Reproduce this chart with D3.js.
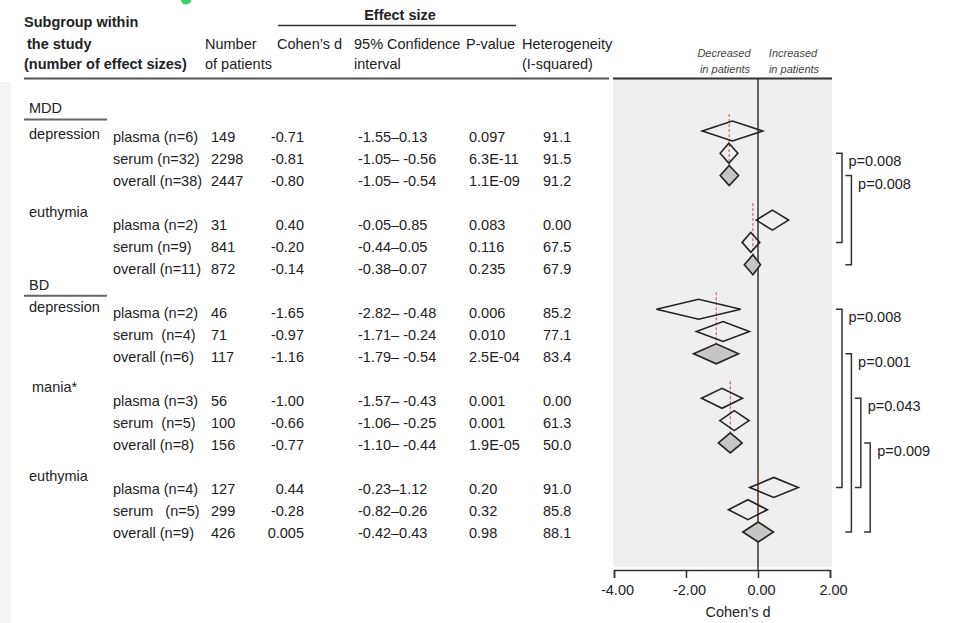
<!DOCTYPE html>
<html lang="en">
<head>
  <meta charset="UTF-8">
  <title>Forest plot</title>
  <script src="https://d3js.org/d3.v7.min.js"></script>
  <style>
    body { margin: 0; background: #fff; }
    svg { display: block; font-family: "Liberation Sans", Arial, sans-serif; }
    text { fill: #222; font-size: 14.5px; white-space: pre; }
    .bold { font-weight: bold; }
    .small { font-size: 11px; font-style: italic; fill: #444; }
  </style>
</head>
<body>
<svg id="chart" width="971" height="623"></svg>

<script>
  // table data (one entry per row)
  const subgroups = ["plasma (n=6)", "serum (n=32)", "overall (n=38)",
                     "plasma (n=2)", "serum (n=9)", "overall (n=11)",
                     "plasma (n=2)", "serum  (n=4)", "overall (n=6)",
                     "plasma (n=3)", "serum  (n=5)", "overall (n=8)",
                     "plasma (n=4)", "serum   (n=5)", "overall (n=9)"];
  const patients = [149, 2298, 2447, 31, 841, 872, 46, 71, 117, 56, 100, 156, 127, 299, 426];
  const cohensD = [-0.71, -0.81, -0.80, 0.40, -0.20, -0.14, -1.65, -0.97, -1.16, -1.00, -0.66, -0.77, 0.44, -0.28, 0.005];
  const ciLow = [-1.55, -1.05, -1.05, -0.05, -0.44, -0.38, -2.82, -1.71, -1.79, -1.57, -1.06, -1.10, -0.23, -0.82, -0.42];
  const ciHigh = [0.13, -0.56, -0.54, 0.85, 0.05, 0.07, -0.48, -0.24, -0.54, -0.43, -0.25, -0.44, 1.12, 0.26, 0.43];
  const pValues = ["0.097", "6.3E-11", "1.1E-09", "0.083", "0.116", "0.235", "0.006", "0.010", "2.5E-04",
                   "0.001", "0.001", "1.9E-05", "0.20", "0.32", "0.98"];
  const iSquared = ["91.1", "91.5", "91.2", "0.00", "67.5", "67.9", "85.2", "77.1", "83.4",
                    "0.00", "61.3", "50.0", "91.0", "85.8", "88.1"];

  // groups of three rows
  const disorders = ["MDD", "BD"];
  const groupLabels = ["depression", "euthymia", "depression", "mania*", "euthymia"];
  const groupDisorder = ["MDD", "MDD", "BD", "BD", "BD"];

  // comparisons between groups (row indices)
  const bracketFrom = [1, 2, 6, 8, 9, 11];
  const bracketTo = [4, 5, 12, 14, 12, 14];
  const bracketLevel = [0, 1, 0, 1, 2, 3];
  const bracketP = ["p=0.008", "p=0.008", "p=0.008", "p=0.001", "p=0.043", "p=0.009"];

  const axisTicks = [-4, -2, 0, 2];

  const svg = d3.select("#chart");

  // a blank slot separates each group of three rows
  const slot = i => i + Math.floor(i / 3);
  const yText = d3.scaleLinear().domain([0, 18]).range([141.7, 538.3]);
  const yDiam = d3.scaleLinear().domain([0, 18]).range([131, 532]);
  const x = d3.scaleLinear().domain([-4, 2]).range([614, 830]);

  const fmtD = v => Math.abs(v) < 0.01 ? String(v) : v.toFixed(2);
  const fmtCI = (lo, hi) => lo.toFixed(2) + "\u2013" + (hi < 0 ? " " : "") + hi.toFixed(2);

  // faint strip at the left edge
  svg.append("rect").attr("x", 0).attr("y", 82).attr("width", 11).attr("height", 541).attr("fill", "#f5f5f5");
  svg.append("circle").attr("cx", 186).attr("cy", -1).attr("r", 5.5).attr("fill", "#3bd16f");

  // ---- header ----
  const header = svg.append("g");
  header.append("text").attr("class", "bold").attr("x", 24).attr("y", 26.5).text("Subgroup within");
  header.append("text").attr("class", "bold").attr("x", 27).attr("y", 49).text("the study");
  header.append("text").attr("class", "bold").attr("x", 24).attr("y", 69).text("(number of effect sizes)");
  header.append("text").attr("x", 205).attr("y", 49).text("Number");
  header.append("text").attr("x", 205).attr("y", 69).text("of patients");
  header.append("text").attr("x", 277).attr("y", 49).text("Cohen\u2019s d");
  header.append("text").attr("x", 354).attr("y", 49).text("95% Confidence");
  header.append("text").attr("x", 354).attr("y", 69).text("interval");
  header.append("text").attr("x", 466).attr("y", 49).text("P-value");
  header.append("text").attr("x", 522).attr("y", 49).text("Heterogeneity");
  header.append("text").attr("x", 522).attr("y", 69).text("(I-squared)");
  header.append("text").attr("class", "bold").attr("x", 400).attr("y", 20)
    .attr("text-anchor", "middle").text("Effect size");
  header.append("line").attr("x1", 278).attr("x2", 516).attr("y1", 25.5).attr("y2", 25.5)
    .attr("stroke", "#333").attr("stroke-width", 1.6);
  header.append("line").attr("x1", 24).attr("x2", 609).attr("y1", 78.5).attr("y2", 78.5)
    .attr("stroke", "#555").attr("stroke-width", 2);

  // ---- table body ----
  const disorderLift = 28.4;
  disorders.forEach(d => {
    const first = groupDisorder.indexOf(d) * 3;
    const yb = yText(slot(first)) - disorderLift;
    svg.append("text").attr("x", 29).attr("y", yb).text(d);
    svg.append("line").attr("x1", 24).attr("x2", 107)
      .attr("y1", yb + 6.2).attr("y2", yb + 6.2)
      .attr("stroke", "#666").attr("stroke-width", 2);
  });

  const groupLift = [2.7, 13, 6, 13.7, 13];
  groupLabels.forEach((g, k) => {
    svg.append("text").attr("x", k === 3 ? 32 : 29)
      .attr("y", yText(slot(k * 3)) - groupLift[k]).text(g);
  });

  const rows = svg.append("g").selectAll("g")
    .data(subgroups.map((s, i) => i))
    .join("g")
    .attr("transform", i => `translate(0,${yText(slot(i))})`);

  rows.append("text").attr("x", 113).text(i => subgroups[i]);
  rows.append("text").attr("x", 211).text(i => patients[i]);
  rows.append("text").attr("x", 304).attr("text-anchor", "end").text(i => fmtD(cohensD[i]));
  rows.append("text").attr("x", 358).text(i => fmtCI(ciLow[i], ciHigh[i]));
  rows.append("text").attr("x", 469).text(i => pValues[i]);
  rows.append("text").attr("x", 543).text(i => iSquared[i]);

  // ---- forest plot ----
  const plot = svg.append("g");
  plot.append("rect").attr("x", 613).attr("y", 78).attr("width", 219).attr("height", 489).attr("fill", "#efefef");
  plot.append("line").attr("x1", 613).attr("x2", 832).attr("y1", 78.5).attr("y2", 78.5)
    .attr("stroke", "#333").attr("stroke-width", 2);
  plot.append("line").attr("x1", x(0)).attr("x2", x(0)).attr("y1", 78).attr("y2", 570)
    .attr("stroke", "#333").attr("stroke-width", 1.5);

  plot.append("text").attr("class", "small").attr("x", 724).attr("y", 57).attr("text-anchor", "middle").text("Decreased");
  plot.append("text").attr("class", "small").attr("x", 725).attr("y", 73).attr("text-anchor", "middle").text("in patients");
  plot.append("text").attr("class", "small").attr("x", 793).attr("y", 57).attr("text-anchor", "middle").text("Increased");
  plot.append("text").attr("class", "small").attr("x", 794).attr("y", 73).attr("text-anchor", "middle").text("in patients");

  // dashed reference at each group's overall estimate
  groupLabels.forEach((g, k) => {
    const o = k * 3 + 2;
    plot.append("line")
      .attr("x1", x(cohensD[o])).attr("x2", x(cohensD[o]))
      .attr("y1", yDiam(slot(k * 3)) - 17).attr("y2", yDiam(slot(o)) - 10)
      .attr("stroke", "#b4533c").attr("stroke-width", 1).attr("stroke-dasharray", "3,2");
  });

  const half = 10;
  plot.selectAll("path.diamond")
    .data(subgroups.map((s, i) => i))
    .join("path")
    .attr("class", "diamond")
    .attr("d", i => {
      const y = yDiam(slot(i));
      return `M${x(ciLow[i])},${y}L${x(cohensD[i])},${y - half}L${x(ciHigh[i])},${y}L${x(cohensD[i])},${y + half}Z`;
    })
    .attr("fill", i => i % 3 === 2 ? "#c6c6c6" : "none")
    .attr("stroke", "#222")
    .attr("stroke-width", 1.6)
    .attr("stroke-linejoin", "miter");

  // axis
  const axis = plot.append("g")
    .attr("transform", "translate(0,570)")
    .call(d3.axisBottom(x).tickValues(axisTicks).tickFormat(d => d.toFixed(2))
      .tickSize(8).tickSizeOuter(8).tickPadding(7));
  axis.select(".domain").attr("stroke", "#333").attr("stroke-width", 1.5);
  axis.selectAll(".tick line").attr("stroke", "#333").attr("stroke-width", 1.5);
  axis.selectAll(".tick text").attr("font-size", "14.5px").attr("font-family", "Liberation Sans, Arial, sans-serif")
    .attr("fill", "#222").attr("dx", 3);
  plot.append("text").attr("x", 738).attr("y", 617).attr("text-anchor", "middle").text("Cohen\u2019s d");

  // ---- comparison brackets ----
  const br = svg.append("g").selectAll("g")
    .data(bracketP.map((p, i) => i))
    .join("g");
  br.append("path")
    .attr("d", i => {
      const bx = 842 + bracketLevel[i] * 9.4;
      const y0 = yDiam(slot(bracketFrom[i])), y1 = yDiam(slot(bracketTo[i]));
      return `M${bx - 6},${y0}H${bx}V${y1}H${bx - 6}`;
    })
    .attr("fill", "none").attr("stroke", "#333").attr("stroke-width", 1.5);
  br.append("text")
    .attr("x", i => 848.5 + bracketLevel[i] * 9.6)
    .attr("y", i => yDiam(slot(bracketFrom[i])) + 13)
    .text(i => bracketP[i]);
</script>
</body>
</html>
